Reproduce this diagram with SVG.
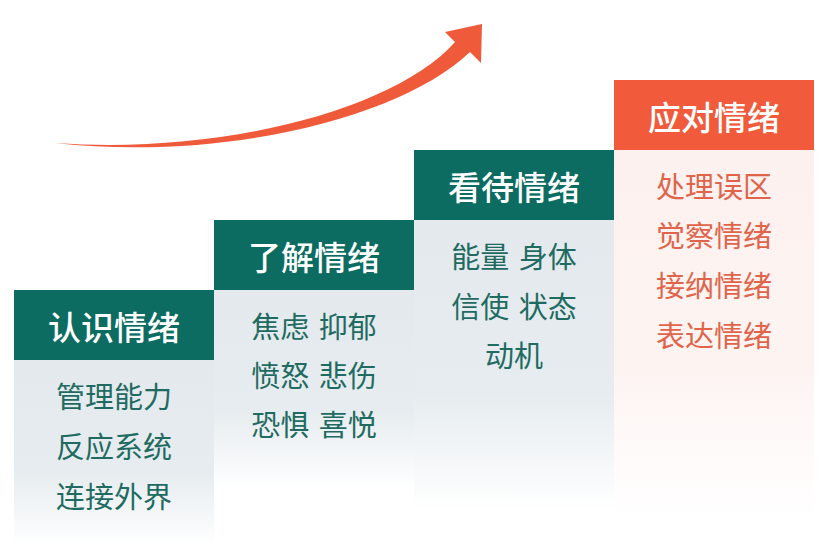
<svg xmlns="http://www.w3.org/2000/svg" width="832" height="546" viewBox="0 0 832 546">
<defs>
<linearGradient id="gTeal" x1="0" y1="0" x2="0" y2="1">
<stop offset="0" stop-color="#e3e9ed"/>
<stop offset="0.6" stop-color="#e6ecef"/>
<stop offset="1" stop-color="#ffffff"/>
</linearGradient>
<linearGradient id="gRed" x1="0" y1="0" x2="0" y2="1">
<stop offset="0" stop-color="#fdf1ef"/>
<stop offset="0.6" stop-color="#fdf4f2"/>
<stop offset="1" stop-color="#ffffff"/>
</linearGradient>
<style>
.hd{font-family:"Noto Sans CJK SC","Noto Sans",sans-serif;font-size:33px;font-weight:500;fill:#ffffff;text-anchor:middle}
.bt{font-family:"Noto Sans CJK SC","Noto Sans",sans-serif;font-size:29px;fill:#1f6b61;text-anchor:middle;word-spacing:3px}
.br{font-family:"Noto Sans CJK SC","Noto Sans",sans-serif;font-size:29px;fill:#e0644a;text-anchor:middle}
.teal{fill:#0c6c61}
.red{fill:#f15a3b}
</style>
</defs>
<rect width="832" height="546" fill="#ffffff"/>
<g id="connectors">
<path d="M55,143 C220,155 395,110 455,42 L445,32 L482,24 L481,63 L470,52 C405,115 230,162 55,143 Z" fill="#ef5a3a"/>
</g>
<g id="step1">
<rect x="14" y="360" width="200" height="186" fill="url(#gTeal)"/>
<rect x="14" y="290" width="200" height="70" class="teal"/>
<text class="hd" x="114" y="340">认识情绪</text>
<text class="bt" x="114" y="408">管理能力</text>
<text class="bt" x="114" y="458">反应系统</text>
<text class="bt" x="114" y="508">连接外界</text>
</g>
<g id="step2">
<rect x="214" y="290" width="200" height="200" fill="url(#gTeal)"/>
<rect x="214" y="220" width="200" height="70" class="teal"/>
<text class="hd" x="314" y="270">了解情绪</text>
<text class="bt" x="314" y="338">焦虑 抑郁</text>
<text class="bt" x="314" y="387">愤怒 悲伤</text>
<text class="bt" x="314" y="436">恐惧 喜悦</text>
</g>
<g id="step3">
<rect x="414" y="220" width="200" height="290" fill="url(#gTeal)"/>
<rect x="414" y="150" width="200" height="70" class="teal"/>
<text class="hd" x="514" y="200">看待情绪</text>
<text class="bt" x="514" y="268">能量 身体</text>
<text class="bt" x="514" y="318">信使 状态</text>
<text class="bt" x="514" y="367">动机</text>
</g>
<g id="step4">
<rect x="614" y="150" width="200" height="370" fill="url(#gRed)"/>
<rect x="614" y="80" width="200" height="70" class="red"/>
<text class="hd" x="714" y="130">应对情绪</text>
<text class="br" x="714" y="198">处理误区</text>
<text class="br" x="714" y="247">觉察情绪</text>
<text class="br" x="714" y="297">接纳情绪</text>
<text class="br" x="714" y="347">表达情绪</text>
</g>
</svg>
